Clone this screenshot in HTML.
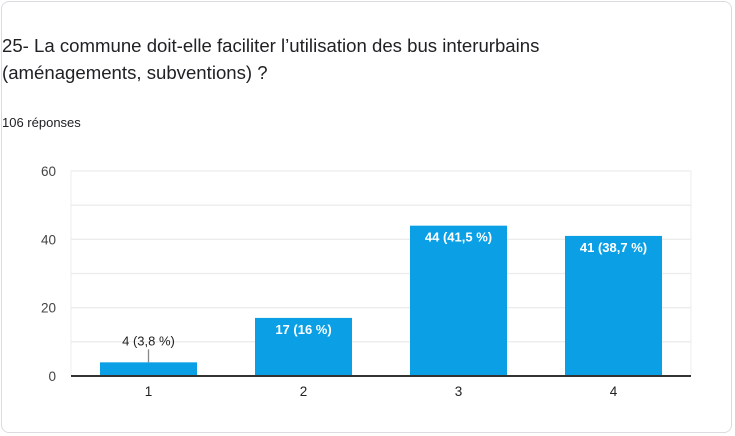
<!DOCTYPE html>
<html><head><meta charset="utf-8">
<style>
body{margin:0;width:735px;height:436px;background:#fff;overflow:hidden;font-family:"Liberation Sans",Arial,sans-serif;}
#card{position:absolute;left:1px;top:1px;width:731px;height:432px;border:1px solid #dadce0;border-radius:8px;box-sizing:border-box;}
#title{position:absolute;left:2px;top:32px;font-size:18.6px;line-height:27px;color:#202124;}
#count{position:absolute;left:2px;top:115px;font-size:13px;color:#202124;}
svg{position:absolute;left:0;top:0;}
</style></head><body>
<div id="card"></div>
<div id="title">25- La commune doit-elle faciliter l’utilisation des bus interurbains<br>(aménagements, subventions) ?</div>
<div id="count">106 réponses</div>
<svg id="chart" width="735" height="436"></svg>
<script>
const categories=["1","2","3","4"];
const values=[4,17,44,41];
const labels=["4 (3,8 %)","17 (16 %)","44 (41,5 %)","41 (38,7 %)"];
const yTicks=[0,20,40,60];
const gridVals=[0,10,20,30,40,50,60];
const NS="http://www.w3.org/2000/svg";
const svg=document.getElementById('chart');
const L=71,R=691,T=171,B=376,maxV=60;
const y=v=>B-(v/maxV)*(B-T);
const bw=(R-L)/categories.length;
const x=i=>L+bw*i+bw/2;
function mk(t,a,p){const e=document.createElementNS(NS,t);for(const k in a)e.setAttribute(k,a[k]);(p||svg).appendChild(e);return e;}
gridVals.forEach(v=>{const g=mk('line',{x1:L,x2:R,y1:y(v),y2:y(v),stroke:'#ececec','stroke-width':1.3});

});
mk('line',{x1:L,x2:L,y1:T,y2:B,stroke:'#ececec','stroke-width':1});
mk('line',{x1:R,x2:R,y1:T,y2:B,stroke:'#ececec','stroke-width':1});
yTicks.forEach(v=>{const t=mk('text',{x:L-15,y:y(v)+5,'text-anchor':'end','font-size':13.5,fill:'#444'});t.textContent=v;

});
const barW=97;
values.forEach((v,i)=>{
const r=mk('rect',{x:x(i)-barW/2,y:y(v),width:barW,height:B-y(v),fill:'#0ba0e6'});


let t;
if(B-y(v)>25){t=mk('text',{x:x(i),y:y(v)+16,'text-anchor':'middle','font-size':13,fill:'#fff','font-weight':'bold'});}
else{mk('line',{x1:x(i),x2:x(i),y1:y(v),y2:y(v)-13,stroke:'#888','stroke-width':1.3});
t=mk('text',{x:x(i),y:y(v)-17,'text-anchor':'middle','font-size':13,fill:'#222'});}
t.textContent=labels[i];


const c=mk('text',{x:x(i),y:B+20,'text-anchor':'middle','font-size':13.5,fill:'#222'});c.textContent=categories[i];


});
const ax=mk('line',{x1:L,x2:R,y1:B,y2:B,stroke:'#333','stroke-width':2});


</script>
</body></html>
